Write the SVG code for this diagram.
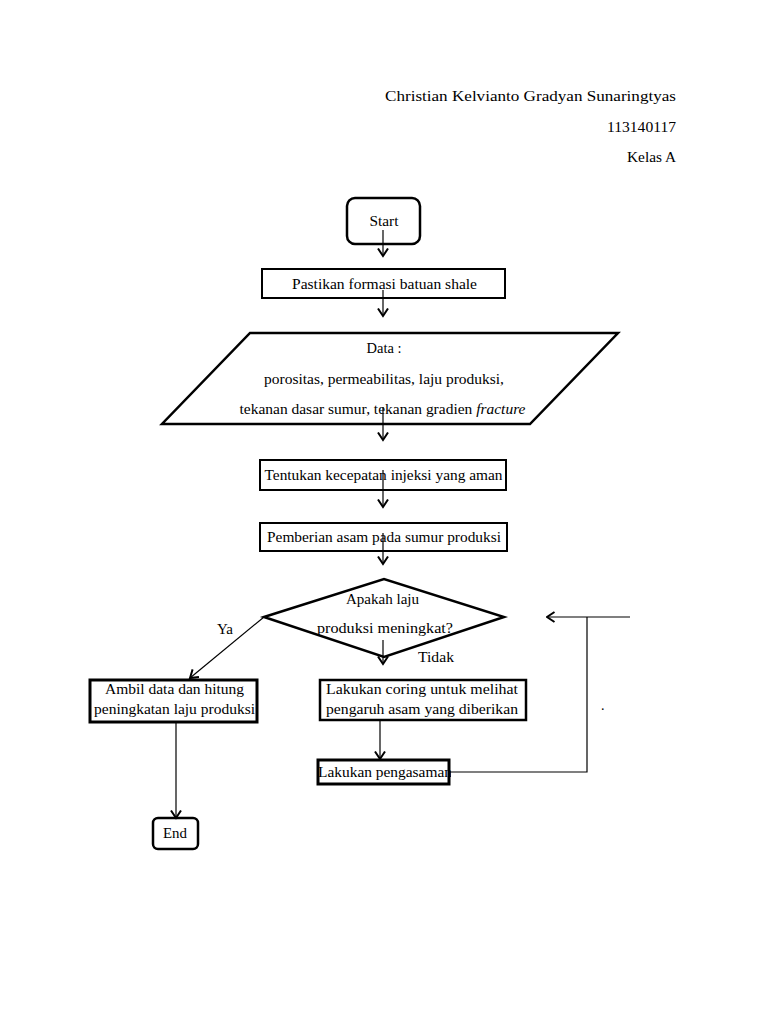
<svg xmlns="http://www.w3.org/2000/svg" width="768" height="1024" viewBox="0 0 768 1024">
<defs>
<style>
text{font-family:"Liberation Serif","Times New Roman",serif;font-size:14px;fill:#000}
.c{text-anchor:middle}
.r{text-anchor:end}
.box{fill:#fff;stroke:#000}
.ln{fill:none;stroke:#000;stroke-width:1.2}
</style>
<marker id="ah" viewBox="0 0 10 12" refX="8.5" refY="6" markerWidth="10" markerHeight="12" markerUnits="userSpaceOnUse" orient="auto">
<path d="M1,1 L8.5,6 L1,11" fill="none" stroke="#000" stroke-width="2"/>
</marker>
<clipPath id="clipP"><rect x="316" y="760" width="135" height="24"/></clipPath>
</defs>
<rect width="768" height="1024" fill="#fff"/>
<g id="header">
<text class="r" x="676" y="101" textLength="291" lengthAdjust="spacingAndGlyphs">Christian Kelvianto Gradyan Sunaringtyas</text>
<text class="r" x="676" y="132" textLength="69" lengthAdjust="spacingAndGlyphs">113140117</text>
<text class="r" x="676" y="162" textLength="49" lengthAdjust="spacingAndGlyphs">Kelas A</text>
</g>
<g id="start">
<rect class="box" x="347" y="198" width="73" height="46" rx="8" stroke-width="2.5"/>
<text class="c" x="384" y="226" textLength="29" lengthAdjust="spacingAndGlyphs">Start</text>
</g>
<g id="pastikan">
<rect class="box" x="262" y="269" width="243" height="29" stroke-width="2"/>
<text class="c" x="384.5" y="289" textLength="185" lengthAdjust="spacingAndGlyphs">Pastikan formasi batuan shale</text>
</g>
<g id="data">
<polygon class="box" points="250,333 618,333 530,424 162,424" stroke-width="2.5"/>
<text class="c" x="384" y="353" textLength="35" lengthAdjust="spacingAndGlyphs">Data :</text>
<text class="c" x="384" y="384" textLength="240" lengthAdjust="spacingAndGlyphs">porositas, permeabilitas, laju produksi,</text>
<text class="c" x="382.5" y="414" textLength="286" lengthAdjust="spacingAndGlyphs">tekanan dasar sumur, tekanan gradien <tspan font-style="italic">fracture</tspan></text>
</g>
<g id="tentukan">
<rect class="box" x="260" y="460" width="246" height="30" stroke-width="2"/>
<text class="c" x="383.5" y="480" textLength="238" lengthAdjust="spacingAndGlyphs">Tentukan kecepatan injeksi yang aman</text>
</g>
<g id="pemberian">
<rect class="box" x="260" y="523" width="247" height="28" stroke-width="2"/>
<text class="c" x="384" y="542" textLength="234" lengthAdjust="spacingAndGlyphs">Pemberian asam pada sumur produksi</text>
</g>
<g id="decision">
<polygon class="box" points="264,617 384,579 504,617 384,657" stroke-width="2.5"/>
<text class="c" x="382.5" y="604" textLength="73" lengthAdjust="spacingAndGlyphs">Apakah laju</text>
<text class="c" x="385" y="633" textLength="136" lengthAdjust="spacingAndGlyphs">produksi meningkat?</text>
</g>
<g id="ambil">
<rect class="box" x="90" y="680" width="167" height="42" stroke-width="3"/>
<text class="c" x="174.5" y="694" textLength="139" lengthAdjust="spacingAndGlyphs">Ambil data dan hitung</text>
<text class="c" x="174.5" y="714" textLength="161" lengthAdjust="spacingAndGlyphs">peningkatan laju produksi</text>
</g>
<g id="coring">
<rect class="box" x="320" y="680" width="206" height="40" stroke-width="2.5"/>
<text class="c" x="422" y="694" textLength="192" lengthAdjust="spacingAndGlyphs">Lakukan coring untuk melihat</text>
<text class="c" x="422" y="714" textLength="192" lengthAdjust="spacingAndGlyphs">pengaruh asam yang diberikan</text>
</g>
<g id="pengasaman">
<rect class="box" x="318" y="760" width="131" height="24" stroke-width="3"/>
<text x="318" y="777" clip-path="url(#clipP)" textLength="134" lengthAdjust="spacingAndGlyphs">Lakukan pengasaman</text>
</g>
<g id="end">
<rect class="box" x="153" y="818" width="45" height="31" rx="5" stroke-width="2.5"/>
<text class="c" x="175" y="838" textLength="24" lengthAdjust="spacingAndGlyphs">End</text>
</g>
<g id="labels">
<text x="217" y="634" textLength="16" lengthAdjust="spacingAndGlyphs">Ya</text>
<text x="418" y="662" textLength="36" lengthAdjust="spacingAndGlyphs">Tidak</text>
<text x="601" y="710" font-size="8">.</text>
</g>
<g id="connectors">
<line class="ln" x1="383" y1="230" x2="383" y2="256" marker-end="url(#ah)"/>
<line class="ln" x1="383" y1="290" x2="383" y2="316" marker-end="url(#ah)"/>
<line class="ln" x1="383" y1="407" x2="383" y2="440" marker-end="url(#ah)"/>
<line class="ln" x1="383" y1="470" x2="383" y2="507" marker-end="url(#ah)"/>
<line class="ln" x1="383" y1="533" x2="383" y2="564" marker-end="url(#ah)"/>
<line class="ln" x1="383" y1="640" x2="383" y2="664" marker-end="url(#ah)"/>
<line class="ln" x1="264" y1="617" x2="190" y2="678" marker-end="url(#ah)"/>
<line class="ln" x1="176" y1="722" x2="176" y2="818" marker-end="url(#ah)"/>
<line class="ln" x1="380" y1="720" x2="380" y2="759" marker-end="url(#ah)"/>
<polyline class="ln" points="449,772 587,772 587,617"/>
<line class="ln" x1="630" y1="617" x2="547" y2="617" marker-end="url(#ah)"/>
</g>
</svg>
